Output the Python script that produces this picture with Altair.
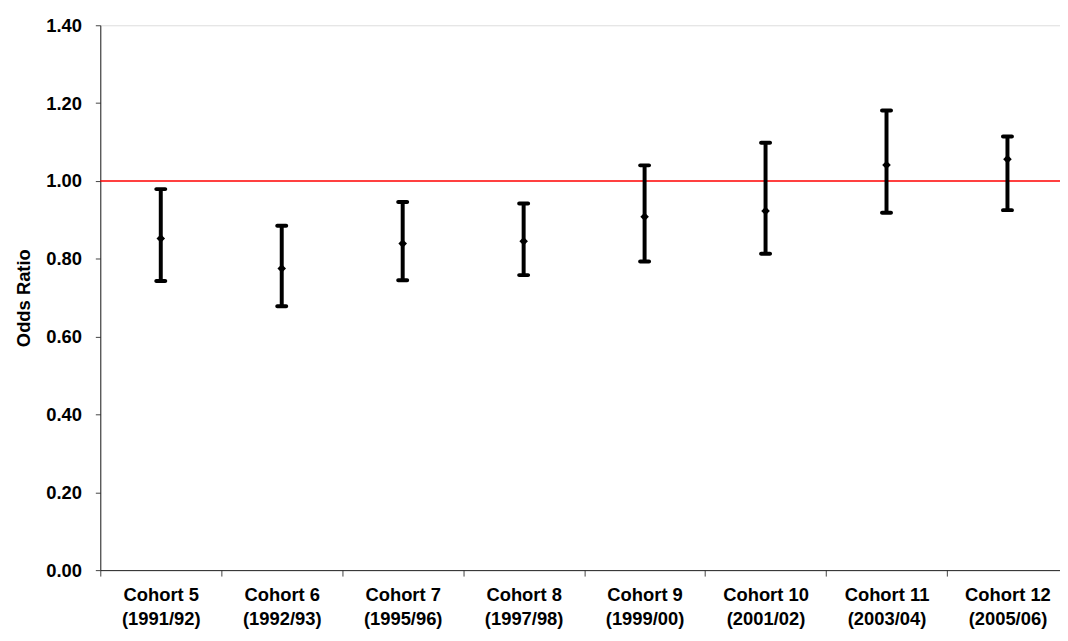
import altair as alt
import pandas as pd

cohorts = ["Cohort 5", "Cohort 6", "Cohort 7", "Cohort 8",
           "Cohort 9", "Cohort 10", "Cohort 11", "Cohort 12"]
years = ["(1991/92)", "(1992/93)", "(1995/96)", "(1997/98)",
         "(1999/00)", "(2001/02)", "(2003/04)", "(2005/06)"]
odds = [0.852, 0.775, 0.839, 0.845, 0.908, 0.923, 1.041, 1.056]
lower = [0.743, 0.678, 0.745, 0.758, 0.793, 0.813, 0.918, 0.925]
upper = [0.979, 0.885, 0.946, 0.942, 1.040, 1.098, 1.181, 1.114]
y_ticks = [0.0, 0.2, 0.4, 0.6, 0.8, 1.0, 1.2, 1.4]
reference = 1.0

labels = [c + "|" + y for c, y in zip(cohorts, years)]
df = pd.DataFrame({"label": labels, "odds": odds, "lower": lower, "upper": upper})

FONT = "Liberation Sans"
FS = 18.5

x_enc = alt.X(
    "label:N",
    sort=labels,
    scale=alt.Scale(type="band", range=[0, 975], paddingInner=0, paddingOuter=0),
    axis=alt.Axis(
        title=None,
        labelAngle=0,
        labelExpr="split(datum.label, '|')",
        labelFont=FONT,
        labelFontSize=FS,
        labelFontWeight="bold",
        labelColor="black",
        labelLineHeight=24,
        labelPadding=10,
        tickBand="extent",
        tickSize=6,
        tickColor="#444",
        domainColor="#222",
        grid=False,
    ),
)

y_scale = alt.Scale(domain=[0, 1.4], nice=False, zero=True)
y_axis = alt.Axis(
    title="Odds Ratio",
    values=y_ticks,
    format=".2f",
    labelFont=FONT,
    labelFontSize=FS,
    labelFontWeight="bold",
    labelColor="black",
    labelPadding=14,
    tickSize=5,
    tickColor="#444",
    domainColor="#222",
    titleFont=FONT,
    titleFontSize=FS,
    titleFontWeight="bold",
    titleColor="black",
    titlePadding=12,
    grid=False,
)

base = alt.Chart(df)

whisker = base.mark_rule(color="black", strokeWidth=4).encode(
    x=x_enc,
    y=alt.Y("lower:Q", scale=y_scale, axis=y_axis),
    y2="upper:Q",
)
cap_hi = base.mark_tick(color="black", size=13, thickness=4, cornerRadius=2, opacity=1).encode(
    x=x_enc, y=alt.Y("upper:Q", scale=y_scale))
cap_lo = base.mark_tick(color="black", size=13, thickness=4, cornerRadius=2, opacity=1).encode(
    x=x_enc, y=alt.Y("lower:Q", scale=y_scale))
mid = base.mark_point(shape="diamond", filled=True, color="black", size=75, opacity=1).encode(
    x=x_enc, y=alt.Y("odds:Q", scale=y_scale))

ref = alt.Chart(pd.DataFrame({"ref": [reference]})).mark_rule(
    color="#ff0000", strokeWidth=1.5).encode(y=alt.Y("ref:Q", scale=y_scale))

chart = alt.layer(ref, whisker, cap_hi, cap_lo, mid).properties(
    width=967,
    height=549,
    autosize=alt.AutoSizeParams(type="none"),
    padding={"left": 93, "top": 15, "right": 0, "bottom": 66},
).configure_view(stroke=None).configure(background="white")

chart.save("out.html", embed_options={"renderer": "svg", "actions": False})
